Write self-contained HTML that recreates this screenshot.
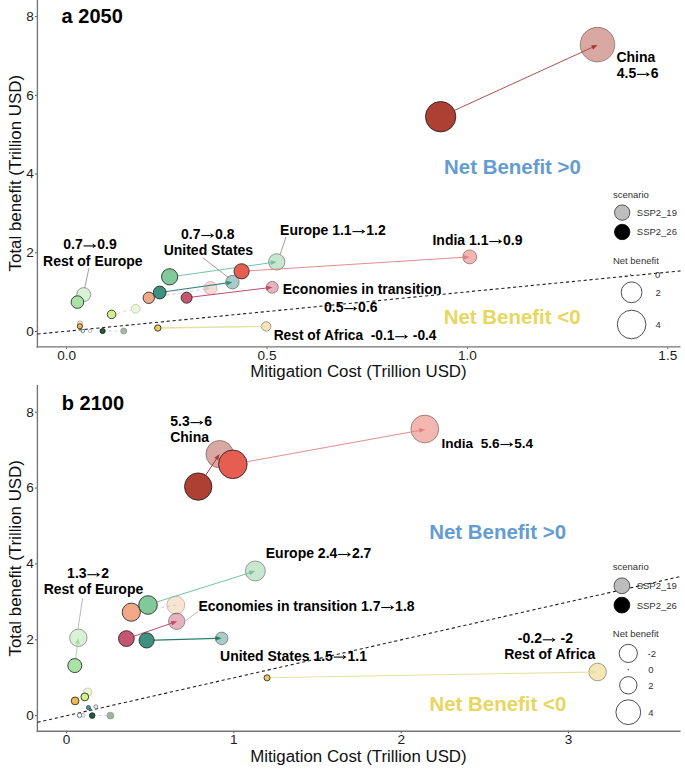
<!DOCTYPE html>
<html><head><meta charset="utf-8"><style>
html,body{margin:0;padding:0;background:#fff;overflow:hidden;}
svg{display:block;font-family:"Liberation Sans",sans-serif;}
</style></head><body>
<svg width="685" height="769" viewBox="0 0 685 769">
<rect width="685" height="769" fill="#fff"/>
<line x1="37.40" y1="0.00" x2="37.40" y2="347.65" stroke="#747474" stroke-width="1.35"/>
<line x1="36.65" y1="346.90" x2="680.50" y2="346.90" stroke="#747474" stroke-width="1.35"/>
<line x1="35.00" y1="331.50" x2="36.70" y2="331.50" stroke="#333" stroke-width="0.9"/>
<text x="33.7" y="335.9" font-size="13.6" font-weight="normal" fill="#1c1c1c" text-anchor="end">0</text>
<line x1="35.00" y1="252.78" x2="36.70" y2="252.78" stroke="#333" stroke-width="0.9"/>
<text x="33.7" y="257.18" font-size="13.6" font-weight="normal" fill="#1c1c1c" text-anchor="end">2</text>
<line x1="35.00" y1="174.06" x2="36.70" y2="174.06" stroke="#333" stroke-width="0.9"/>
<text x="33.7" y="178.46" font-size="13.6" font-weight="normal" fill="#1c1c1c" text-anchor="end">4</text>
<line x1="35.00" y1="95.34" x2="36.70" y2="95.34" stroke="#333" stroke-width="0.9"/>
<text x="33.7" y="99.74" font-size="13.6" font-weight="normal" fill="#1c1c1c" text-anchor="end">6</text>
<line x1="35.00" y1="16.62" x2="36.70" y2="16.62" stroke="#333" stroke-width="0.9"/>
<text x="33.7" y="21.02" font-size="13.6" font-weight="normal" fill="#1c1c1c" text-anchor="end">8</text>
<line x1="66.60" y1="347.60" x2="66.60" y2="348.90" stroke="#333" stroke-width="0.9"/>
<text x="66.6" y="359.6" font-size="13.6" font-weight="normal" fill="#1c1c1c" text-anchor="middle">0.0</text>
<line x1="267.00" y1="347.60" x2="267.00" y2="348.90" stroke="#333" stroke-width="0.9"/>
<text x="267.0" y="359.6" font-size="13.6" font-weight="normal" fill="#1c1c1c" text-anchor="middle">0.5</text>
<line x1="467.40" y1="347.60" x2="467.40" y2="348.90" stroke="#333" stroke-width="0.9"/>
<text x="467.4" y="359.6" font-size="13.6" font-weight="normal" fill="#1c1c1c" text-anchor="middle">1.0</text>
<line x1="667.80" y1="347.60" x2="667.80" y2="348.90" stroke="#333" stroke-width="0.9"/>
<text x="667.8" y="359.6" font-size="13.6" font-weight="normal" fill="#1c1c1c" text-anchor="middle">1.5</text>
<text x="358.4" y="377.3" font-size="16.85" font-weight="normal" fill="#111" text-anchor="middle">Mitigation Cost (Trillion USD)</text>
<text x="0" y="0" font-size="16.9" fill="#111" text-anchor="middle" transform="translate(21,173.2) rotate(-90)">Total benefit (Trillion USD)</text>
<line x1="37.50" y1="334.06" x2="680.50" y2="270.91" stroke="#222" stroke-width="1.1" stroke-dasharray="3.2 2.7"/>
<text x="61.61" y="23.4" font-size="20" font-weight="bold" fill="#000" text-anchor="start">a 2050</text>
<text x="444.06" y="174.2" font-size="20.45" font-weight="bold" fill="#649cd2" text-anchor="start">Net Benefit &gt;0</text>
<text x="443.66" y="324.4" font-size="20.45" font-weight="bold" fill="#e8d660" text-anchor="start">Net Benefit &lt;0</text>
<circle cx="597.5" cy="44.6" r="17.3" fill="#ad3f33" stroke="#000" stroke-width="0.8" fill-opacity="0.45" stroke-opacity="0.45"/>
<circle cx="469.7" cy="256.9" r="7" fill="#e65e52" stroke="#000" stroke-width="0.8" fill-opacity="0.45" stroke-opacity="0.45"/>
<circle cx="276.7" cy="261.9" r="8.2" fill="#82c99a" stroke="#000" stroke-width="0.8" fill-opacity="0.45" stroke-opacity="0.45"/>
<circle cx="232.4" cy="282.1" r="6.8" fill="#3f9080" stroke="#000" stroke-width="0.8" fill-opacity="0.45" stroke-opacity="0.45"/>
<circle cx="272.3" cy="287.3" r="6.0" fill="#c4566f" stroke="#000" stroke-width="0.8" fill-opacity="0.45" stroke-opacity="0.45"/>
<circle cx="210.5" cy="288" r="6.5" fill="#f6dcd4" stroke="#c8aaa4" stroke-width="0.8"/>
<circle cx="83.7" cy="294.6" r="7" fill="#a8e2a4" stroke="#000" stroke-width="0.8" fill-opacity="0.45" stroke-opacity="0.45"/>
<circle cx="135.7" cy="308.8" r="4.4" fill="#eef7dc" stroke="#b8c8a8" stroke-width="0.8"/>
<circle cx="266.2" cy="326.4" r="4.7" fill="#ecc860" stroke="#000" stroke-width="0.8" fill-opacity="0.45" stroke-opacity="0.45"/>
<circle cx="79.9" cy="323.4" r="2.5" fill="#f8e0c0" stroke="#c0a080" stroke-width="0.8"/>
<line x1="440.60" y1="116.70" x2="592.95" y2="47.08" stroke="#a83c38" stroke-width="0.9"/>
<polygon points="597.50,45.00 593.04,49.68 591.05,45.31" fill="#a83c38"/>
<line x1="241.60" y1="271.30" x2="464.71" y2="257.22" stroke="#e08080" stroke-width="0.9"/>
<polygon points="469.70,256.90 463.86,259.67 463.56,254.88" fill="#e08080"/>
<line x1="169.70" y1="277.00" x2="271.75" y2="262.60" stroke="#74c3a3" stroke-width="1"/>
<polygon points="276.70,261.90 271.09,265.11 270.42,260.36" fill="#74c3a3"/>
<line x1="159.70" y1="292.50" x2="227.45" y2="282.90" stroke="#3a8a80" stroke-width="1.1"/>
<polygon points="232.40,282.20 226.80,285.42 226.12,280.67" fill="#3a8a80"/>
<line x1="186.60" y1="297.70" x2="267.34" y2="287.90" stroke="#c04a6a" stroke-width="1"/>
<polygon points="272.30,287.30 266.63,290.41 266.05,285.64" fill="#c04a6a"/>
<line x1="148.90" y1="298.10" x2="205.57" y2="288.81" stroke="#d4cccc" stroke-width="1" stroke-dasharray="3 3"/>
<polygon points="210.50,288.00 204.97,291.34 204.19,286.60" fill="#d4cccc"/>
<line x1="111.60" y1="314.40" x2="135.70" y2="308.80" stroke="#d8e0d0" stroke-width="1" stroke-dasharray="3 3"/>
<line x1="157.80" y1="328.00" x2="266.20" y2="326.40" stroke="#e4e0a8" stroke-width="1.4"/>
<line x1="102.60" y1="331.00" x2="123.70" y2="331.00" stroke="#d0d8d0" stroke-width="1" stroke-dasharray="3 3"/>
<line x1="89.00" y1="267.80" x2="84.80" y2="287.60" stroke="#777" stroke-width="0.7"/>
<line x1="203.00" y1="257.90" x2="228.80" y2="277.80" stroke="#777" stroke-width="0.7"/>
<line x1="286.00" y1="236.90" x2="280.20" y2="254.40" stroke="#777" stroke-width="0.7"/>
<circle cx="440.65" cy="116.7" r="15.2" fill="#ad3f33" stroke="#1a1a1a" stroke-width="0.8"/>
<circle cx="241.6" cy="271.3" r="7.6" fill="#e65e52" stroke="#1a1a1a" stroke-width="0.8"/>
<circle cx="169.6" cy="276.8" r="8.1" fill="#82c99a" stroke="#1a1a1a" stroke-width="0.8"/>
<circle cx="148.8" cy="297.8" r="5.7" fill="#f0a888" stroke="#1a1a1a" stroke-width="0.8"/>
<circle cx="159.7" cy="292.5" r="6.4" fill="#3f9080" stroke="#1a1a1a" stroke-width="0.8"/>
<circle cx="186.6" cy="297.7" r="5.5" fill="#c4566f" stroke="#1a1a1a" stroke-width="0.8"/>
<circle cx="77.4" cy="302.1" r="6.3" fill="#a8e2a4" stroke="#1a1a1a" stroke-width="0.8"/>
<circle cx="111.6" cy="314.4" r="4.3" fill="#d4f08c" stroke="#1a1a1a" stroke-width="0.8"/>
<circle cx="157.8" cy="328" r="3.2" fill="#ecc860" stroke="#1a1a1a" stroke-width="0.8"/>
<circle cx="79.9" cy="326.3" r="2.6" fill="#f0b850" stroke="#1a1a1a" stroke-width="0.8"/>
<circle cx="82.8" cy="331" r="1.75" fill="#f4f4f4" stroke="#506070" stroke-width="0.8"/>
<circle cx="90.1" cy="331" r="1.75" fill="#f4f4f4" stroke="#b0b0b0" stroke-width="0.8"/>
<circle cx="102.6" cy="331" r="2.6" fill="#1b5e38" stroke="#1a1a1a" stroke-width="0.8"/>
<circle cx="123.7" cy="331" r="3" fill="#a8b8a8" stroke="#8a9a8a" stroke-width="0.8"/>
<text x="616.43" y="62.0" font-size="14" font-weight="bold" fill="#000">China</text>
<text x="616.79" y="77.8" font-size="14" font-weight="bold" fill="#000">4.5</text>
<line x1="637.05" y1="74.40" x2="646.55" y2="74.40" stroke="#000" stroke-width="1.1"/>
<polygon points="649.85,74.40 646.05,72.00 646.95,74.40 646.05,76.80" fill="#000"/>
<text x="650.85" y="77.8" font-size="14" font-weight="bold" fill="#000">6</text>
<text x="63.25" y="249.3" font-size="14" font-weight="bold" fill="#000">0.7</text>
<line x1="83.51" y1="245.90" x2="93.01" y2="245.90" stroke="#000" stroke-width="1.1"/>
<polygon points="96.31,245.90 92.51,243.50 93.41,245.90 92.51,248.30" fill="#000"/>
<text x="97.31" y="249.3" font-size="14" font-weight="bold" fill="#000">0.9</text>
<text x="43.06" y="265.7" font-size="14" font-weight="bold" fill="#000">Rest&#160;of&#160;Europe</text>
<text x="181.05" y="238.9" font-size="14" font-weight="bold" fill="#000">0.7</text>
<line x1="201.31" y1="235.50" x2="210.81" y2="235.50" stroke="#000" stroke-width="1.1"/>
<polygon points="214.11,235.50 210.31,233.10 211.21,235.50 210.31,237.90" fill="#000"/>
<text x="215.11" y="238.9" font-size="14" font-weight="bold" fill="#000">0.8</text>
<text x="163.66" y="255.3" font-size="14" font-weight="bold" fill="#000">United&#160;States</text>
<text x="280.06" y="235.0" font-size="14" font-weight="bold" fill="#000">Europe&#160;1.1</text>
<line x1="352.44" y1="231.60" x2="361.94" y2="231.60" stroke="#000" stroke-width="1.1"/>
<polygon points="365.24,231.60 361.44,229.20 362.34,231.60 361.44,234.00" fill="#000"/>
<text x="366.24" y="235.0" font-size="14" font-weight="bold" fill="#000">1.2</text>
<text x="432.46" y="244.9" font-size="14" font-weight="bold" fill="#000">India&#160;1.1</text>
<line x1="489.28" y1="241.50" x2="498.78" y2="241.50" stroke="#000" stroke-width="1.1"/>
<polygon points="502.08,241.50 498.28,239.10 499.18,241.50 498.28,243.90" fill="#000"/>
<text x="503.08" y="244.9" font-size="14" font-weight="bold" fill="#000">0.9</text>
<text x="282.76" y="294.3" font-size="14" font-weight="bold" fill="#000">Economies&#160;in&#160;transition</text>
<text x="324.05" y="312.0" font-size="14" font-weight="bold" fill="#000">0.5</text>
<line x1="344.31" y1="308.60" x2="353.81" y2="308.60" stroke="#000" stroke-width="1.1"/>
<polygon points="357.11,308.60 353.31,306.20 354.21,308.60 353.31,311.00" fill="#000"/>
<text x="358.11" y="312.0" font-size="14" font-weight="bold" fill="#000">0.6</text>
<text x="273.68" y="340.1" font-size="13.75" font-weight="bold" fill="#000">Rest&#160;of&#160;Africa&#160;&#160;-0.1</text>
<line x1="395.21" y1="336.70" x2="404.71" y2="336.70" stroke="#000" stroke-width="1.1"/>
<polygon points="408.01,336.70 404.21,334.30 405.11,336.70 404.21,339.10" fill="#000"/>
<text x="409.01" y="340.1" font-size="13.75" font-weight="bold" fill="#000">&#160;-0.4</text>
<text x="612.9" y="197.5" font-size="9.5" font-weight="normal" fill="#333" text-anchor="start">scenario</text>
<circle cx="622.2" cy="212.6" r="7.7" fill="#bdbdbd" stroke="#333" stroke-width="0.8"/>
<text x="636.8" y="216" font-size="9.5" font-weight="normal" fill="#333" text-anchor="start">SSP2_19</text>
<circle cx="622.2" cy="232" r="7.7" fill="#000" stroke="#000" stroke-width="0.8"/>
<text x="636.8" y="235.4" font-size="9.5" font-weight="normal" fill="#333" text-anchor="start">SSP2_26</text>
<text x="612.9" y="264" font-size="9.5" font-weight="normal" fill="#333" text-anchor="start">Net benefit</text>
<circle cx="630.5" cy="274.6" r="0.5" fill="#333" stroke="#333" stroke-width="0.3"/>
<text x="655" y="278" font-size="9.5" font-weight="normal" fill="#333" text-anchor="start">0</text>
<circle cx="631.6" cy="292.3" r="10.4" fill="none" stroke="#222" stroke-width="0.8"/>
<text x="655.5" y="295.7" font-size="9.5" font-weight="normal" fill="#333" text-anchor="start">2</text>
<circle cx="631.6" cy="324.5" r="14.3" fill="none" stroke="#222" stroke-width="0.8"/>
<text x="655.5" y="327.9" font-size="9.5" font-weight="normal" fill="#333" text-anchor="start">4</text>
<line x1="37.40" y1="385.00" x2="37.40" y2="731.95" stroke="#747474" stroke-width="1.35"/>
<line x1="36.65" y1="731.20" x2="680.50" y2="731.20" stroke="#747474" stroke-width="1.35"/>
<line x1="35.00" y1="715.70" x2="36.70" y2="715.70" stroke="#333" stroke-width="0.9"/>
<text x="33.7" y="720.1" font-size="13.6" font-weight="normal" fill="#1c1c1c" text-anchor="end">0</text>
<line x1="35.00" y1="639.82" x2="36.70" y2="639.82" stroke="#333" stroke-width="0.9"/>
<text x="33.7" y="644.22" font-size="13.6" font-weight="normal" fill="#1c1c1c" text-anchor="end">2</text>
<line x1="35.00" y1="563.94" x2="36.70" y2="563.94" stroke="#333" stroke-width="0.9"/>
<text x="33.7" y="568.34" font-size="13.6" font-weight="normal" fill="#1c1c1c" text-anchor="end">4</text>
<line x1="35.00" y1="488.06" x2="36.70" y2="488.06" stroke="#333" stroke-width="0.9"/>
<text x="33.7" y="492.46" font-size="13.6" font-weight="normal" fill="#1c1c1c" text-anchor="end">6</text>
<line x1="35.00" y1="412.18" x2="36.70" y2="412.18" stroke="#333" stroke-width="0.9"/>
<text x="33.7" y="416.58" font-size="13.6" font-weight="normal" fill="#1c1c1c" text-anchor="end">8</text>
<line x1="66.60" y1="731.90" x2="66.60" y2="733.20" stroke="#333" stroke-width="0.9"/>
<text x="66.6" y="743.9" font-size="13.6" font-weight="normal" fill="#1c1c1c" text-anchor="middle">0</text>
<line x1="233.90" y1="731.90" x2="233.90" y2="733.20" stroke="#333" stroke-width="0.9"/>
<text x="233.9" y="743.9" font-size="13.6" font-weight="normal" fill="#1c1c1c" text-anchor="middle">1</text>
<line x1="401.20" y1="731.90" x2="401.20" y2="733.20" stroke="#333" stroke-width="0.9"/>
<text x="401.2" y="743.9" font-size="13.6" font-weight="normal" fill="#1c1c1c" text-anchor="middle">2</text>
<line x1="568.50" y1="731.90" x2="568.50" y2="733.20" stroke="#333" stroke-width="0.9"/>
<text x="568.5" y="743.9" font-size="13.6" font-weight="normal" fill="#1c1c1c" text-anchor="middle">3</text>
<text x="358.4" y="761.6" font-size="16.85" font-weight="normal" fill="#111" text-anchor="middle">Mitigation Cost (Trillion USD)</text>
<text x="0" y="0" font-size="16.9" fill="#111" text-anchor="middle" transform="translate(21,558.3) rotate(-90)">Total benefit (Trillion USD)</text>
<line x1="37.50" y1="722.30" x2="680.50" y2="576.48" stroke="#222" stroke-width="1.1" stroke-dasharray="3.2 2.7"/>
<text x="61.78" y="410" font-size="20" font-weight="bold" fill="#000" text-anchor="start">b 2100</text>
<text x="429.16" y="539.4" font-size="20.45" font-weight="bold" fill="#649cd2" text-anchor="start">Net Benefit &gt;0</text>
<text x="429.46" y="710.5" font-size="20.45" font-weight="bold" fill="#e8d660" text-anchor="start">Net Benefit &lt;0</text>
<circle cx="219.6" cy="454.1" r="13.7" fill="#ad3f33" stroke="#000" stroke-width="0.8" fill-opacity="0.45" stroke-opacity="0.45"/>
<circle cx="424.8" cy="429.0" r="13.9" fill="#e65e52" stroke="#000" stroke-width="0.8" fill-opacity="0.45" stroke-opacity="0.45"/>
<circle cx="255.35" cy="571.0" r="10" fill="#82c99a" stroke="#000" stroke-width="0.8" fill-opacity="0.45" stroke-opacity="0.45"/>
<circle cx="175.8" cy="605.1" r="9.0" fill="#f8e4d2" stroke="#c0a898" stroke-width="0.8"/>
<circle cx="176.7" cy="621.3" r="8.2" fill="#c4566f" stroke="#000" stroke-width="0.8" fill-opacity="0.45" stroke-opacity="0.45"/>
<circle cx="221.7" cy="638.4" r="6.3" fill="#3f9080" stroke="#000" stroke-width="0.8" fill-opacity="0.45" stroke-opacity="0.45"/>
<circle cx="78.3" cy="637.8" r="8.7" fill="#a8e2a4" stroke="#000" stroke-width="0.8" fill-opacity="0.45" stroke-opacity="0.45"/>
<circle cx="87.8" cy="692.1" r="4.1" fill="#eef5dc" stroke="#b8c8a0" stroke-width="0.8"/>
<circle cx="597.6" cy="672" r="8.8" fill="#ecc860" stroke="#000" stroke-width="0.8" fill-opacity="0.45" stroke-opacity="0.45"/>
<circle cx="95.8" cy="706.8" r="2" fill="#e0e4e4" stroke="#708080" stroke-width="0.8"/>
<circle cx="83" cy="715.3" r="2" fill="#f4f4f4" stroke="#b0b0b0" stroke-width="0.8"/>
<line x1="198.20" y1="486.60" x2="216.85" y2="458.28" stroke="#b03a35" stroke-width="1"/>
<polygon points="219.60,454.10 218.30,460.43 214.30,457.79" fill="#b03a35"/>
<line x1="232.85" y1="464.30" x2="420.28" y2="430.29" stroke="#e08080" stroke-width="0.9"/>
<polygon points="425.20,429.40 419.72,432.83 418.87,428.11" fill="#e08080"/>
<line x1="148.50" y1="604.60" x2="250.43" y2="572.60" stroke="#74c3a3" stroke-width="1"/>
<polygon points="255.20,571.10 250.19,575.19 248.76,570.61" fill="#74c3a3"/>
<line x1="131.60" y1="612.00" x2="175.80" y2="605.10" stroke="#c8c8c8" stroke-width="1" stroke-dasharray="3 3"/>
<line x1="126.40" y1="638.80" x2="172.47" y2="622.93" stroke="#c04a6a" stroke-width="1"/>
<polygon points="177.20,621.30 172.31,625.52 170.75,620.99" fill="#c04a6a"/>
<line x1="146.60" y1="640.30" x2="216.60" y2="638.34" stroke="#2e7a68" stroke-width="1.3"/>
<polygon points="221.60,638.20 215.67,640.77 215.54,635.97" fill="#2e7a68"/>
<line x1="74.80" y1="665.60" x2="77.68" y2="642.76" stroke="#a8d8a8" stroke-width="1"/>
<polygon points="78.30,637.80 79.93,644.05 75.17,643.45" fill="#a8d8a8"/>
<line x1="266.80" y1="677.80" x2="592.60" y2="672.09" stroke="#e6e29a" stroke-width="1.1"/>
<polygon points="597.60,672.00 591.64,674.50 591.56,669.71" fill="#e6e29a"/>
<line x1="92.20" y1="715.60" x2="110.40" y2="715.60" stroke="#d0d8d0" stroke-width="1" stroke-dasharray="3 3"/>
<line x1="82.60" y1="598.50" x2="78.00" y2="628.60" stroke="#999" stroke-width="0.7"/>
<line x1="197.70" y1="611.60" x2="185.40" y2="621.00" stroke="#999" stroke-width="0.7"/>
<circle cx="198.2" cy="486.6" r="13.7" fill="#ad3f33" stroke="#1a1a1a" stroke-width="0.8"/>
<circle cx="232.85" cy="464.3" r="14.3" fill="#e65e52" stroke="#1a1a1a" stroke-width="0.8"/>
<circle cx="131.3" cy="612.2" r="9.1" fill="#f0a888" stroke="#1a1a1a" stroke-width="0.8"/>
<circle cx="148.0" cy="605.0" r="9.3" fill="#82c99a" stroke="#1a1a1a" stroke-width="0.8"/>
<circle cx="126.4" cy="638.6" r="7.9" fill="#c4566f" stroke="#1a1a1a" stroke-width="0.8"/>
<circle cx="146.6" cy="640.4" r="7.6" fill="#3f9080" stroke="#1a1a1a" stroke-width="0.8"/>
<circle cx="74.8" cy="665.6" r="7.0" fill="#a8e2a4" stroke="#1a1a1a" stroke-width="0.8"/>
<circle cx="84.8" cy="696.9" r="3.9" fill="#d4f08c" stroke="#1a1a1a" stroke-width="0.8"/>
<circle cx="75.1" cy="700.9" r="3.9" fill="#f0b850" stroke="#1a1a1a" stroke-width="0.8"/>
<circle cx="88.4" cy="707.6" r="2" fill="#5a9aa0" stroke="#204050" stroke-width="0.8"/>
<circle cx="90.1" cy="709.6" r="1.2" fill="#7ab0b0" stroke="#204050" stroke-width="0.8"/>
<circle cx="79.6" cy="715.3" r="2.3" fill="#f4f4f4" stroke="#506070" stroke-width="0.8"/>
<circle cx="92.2" cy="715.6" r="2.8" fill="#1b5e38" stroke="#1a1a1a" stroke-width="0.8"/>
<circle cx="110.4" cy="715.6" r="3.4" fill="#a0b4a6" stroke="#8a9a8a" stroke-width="0.8"/>
<circle cx="267.05" cy="677.85" r="3.05" fill="#ecc860" stroke="#1a1a1a" stroke-width="0.8"/>
<text x="170.27" y="426.0" font-size="14" font-weight="bold" fill="#000">5.3</text>
<line x1="190.53" y1="422.60" x2="200.03" y2="422.60" stroke="#000" stroke-width="1.1"/>
<polygon points="203.33,422.60 199.53,420.20 200.43,422.60 199.53,425.00" fill="#000"/>
<text x="204.33" y="426.0" font-size="14" font-weight="bold" fill="#000">6</text>
<text x="170.13" y="442.2" font-size="14" font-weight="bold" fill="#000">China</text>
<text x="441.39" y="447.9" font-size="13.6" font-weight="bold" fill="#000">India&#160;&#160;5.6</text>
<line x1="500.39" y1="444.50" x2="509.89" y2="444.50" stroke="#000" stroke-width="1.1"/>
<polygon points="513.19,444.50 509.39,442.10 510.29,444.50 509.39,446.90" fill="#000"/>
<text x="514.19" y="447.9" font-size="13.6" font-weight="bold" fill="#000">5.4</text>
<text x="265.76" y="557.9" font-size="14" font-weight="bold" fill="#000">Europe&#160;2.4</text>
<line x1="338.14" y1="554.50" x2="347.64" y2="554.50" stroke="#000" stroke-width="1.1"/>
<polygon points="350.94,554.50 347.14,552.10 348.04,554.50 347.14,556.90" fill="#000"/>
<text x="351.94" y="557.9" font-size="14" font-weight="bold" fill="#000">2.7</text>
<text x="67.12" y="578.1" font-size="14" font-weight="bold" fill="#000">1.3</text>
<line x1="87.38" y1="574.70" x2="96.88" y2="574.70" stroke="#000" stroke-width="1.1"/>
<polygon points="100.18,574.70 96.38,572.30 97.28,574.70 96.38,577.10" fill="#000"/>
<text x="101.18" y="578.1" font-size="14" font-weight="bold" fill="#000">2</text>
<text x="43.66" y="593.7" font-size="14" font-weight="bold" fill="#000">Rest&#160;of&#160;Europe</text>
<text x="198.46" y="610.9" font-size="14" font-weight="bold" fill="#000">Economies&#160;in&#160;transition&#160;1.7</text>
<line x1="381.30" y1="607.50" x2="390.80" y2="607.50" stroke="#000" stroke-width="1.1"/>
<polygon points="394.10,607.50 390.30,605.10 391.20,607.50 390.30,609.90" fill="#000"/>
<text x="395.10" y="610.9" font-size="14" font-weight="bold" fill="#000">1.8</text>
<text x="220.06" y="660.5" font-size="14" font-weight="bold" fill="#000">United&#160;States&#160;1.5</text>
<line x1="333.67" y1="657.10" x2="343.17" y2="657.10" stroke="#000" stroke-width="1.1"/>
<polygon points="346.47,657.10 342.67,654.70 343.57,657.10 342.67,659.50" fill="#000"/>
<text x="347.47" y="660.5" font-size="14" font-weight="bold" fill="#000">1.1</text>
<text x="517.85" y="643.2" font-size="14" font-weight="bold" fill="#000">-0.2</text>
<line x1="542.78" y1="639.80" x2="552.28" y2="639.80" stroke="#000" stroke-width="1.1"/>
<polygon points="555.58,639.80 551.78,637.40 552.68,639.80 551.78,642.20" fill="#000"/>
<text x="556.58" y="643.2" font-size="14" font-weight="bold" fill="#000">&#160;-2</text>
<text x="504.16" y="658.6" font-size="14" font-weight="bold" fill="#000">Rest&#160;of&#160;Africa</text>
<text x="612.8" y="570" font-size="9.5" font-weight="normal" fill="#333" text-anchor="start">scenario</text>
<circle cx="621.9" cy="585.8" r="7.9" fill="#bdbdbd" stroke="#333" stroke-width="0.8"/>
<text x="636.7" y="589.2" font-size="9.5" font-weight="normal" fill="#333" text-anchor="start">SSP2_19</text>
<circle cx="621.9" cy="605.1" r="7.9" fill="#000" stroke="#000" stroke-width="0.8"/>
<text x="636.7" y="608.5" font-size="9.5" font-weight="normal" fill="#333" text-anchor="start">SSP2_26</text>
<text x="612.8" y="637" font-size="9.5" font-weight="normal" fill="#333" text-anchor="start">Net benefit</text>
<circle cx="628.3" cy="653.4" r="9.1" fill="none" stroke="#222" stroke-width="0.8"/>
<text x="647.5" y="656.8" font-size="9.5" font-weight="normal" fill="#333" text-anchor="start">-2</text>
<circle cx="628.3" cy="669.6" r="0.5" fill="#333" stroke="#333" stroke-width="0.3"/>
<text x="648.3" y="673" font-size="9.5" font-weight="normal" fill="#333" text-anchor="start">0</text>
<circle cx="628.3" cy="685.3" r="8.7" fill="none" stroke="#222" stroke-width="0.8"/>
<text x="648.3" y="688.7" font-size="9.5" font-weight="normal" fill="#333" text-anchor="start">2</text>
<circle cx="628.3" cy="712.2" r="12.4" fill="none" stroke="#222" stroke-width="0.8"/>
<text x="648.3" y="715.6" font-size="9.5" font-weight="normal" fill="#333" text-anchor="start">4</text>
</svg>
</body></html>
